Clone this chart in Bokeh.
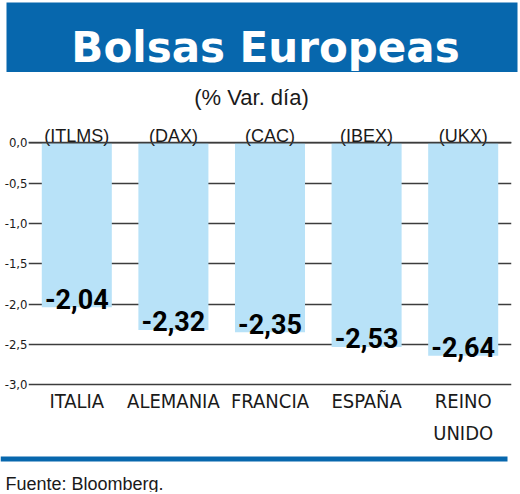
from bokeh.plotting import figure
from bokeh.layouts import column
from bokeh.models import (FactorRange, Range1d, FixedTicker, BoxAnnotation, Label,
                          Span, ColumnDataSource)
from bokeh.core.properties import value
from bokeh.embed import file_html
from bokeh.resources import INLINE

# ---- data ----
paises = ["ITALIA", "ALEMANIA", "FRANCIA", "ESPAÑA", "REINO UNIDO"]
indices = ["(ITLMS)", "(DAX)", "(CAC)", "(IBEX)", "(UKX)"]
variacion = [-2.04, -2.32, -2.35, -2.53, -2.64]
tick_vals = [0.0, -0.5, -1.0, -1.5, -2.0, -2.5, -3.0]
tick_labels = ["0,0", "-0,5", "-1,0", "-1,5", "-2,0", "-2,5", "-3,0"]
titulo = "Bolsas Europeas"
subtitulo = "(% Var. día)"
fuente = "Fuente: Bloomberg."

# ---- styling ----
W = 520
H_HEAD, H_MAIN, H_FOOT = 72, 376, 44
BORDER_L, BORDER_R = 28, 9
ZERO_PX = 70.3           # px of the 0 line from top of main figure
PX = 80.67               # px per unit
BLUE = "#0767ad"
BAR = "#b8e2f8"
GRID = "#3c3c3c"
TXT = "#1a1a1a"
NARROW_S = "'Liberation Sans Narrow', 'DejaVu Sans Condensed', sans-serif"
SANS_S = "'Liberation Sans', Arial, sans-serif"
NUM_S = "Roboto, 'Liberation Sans Narrow', sans-serif"


def bare(fig):
    fig.outline_line_color = None
    fig.grid.visible = False
    return fig


def no_align(fig):
    if "frame_align" in fig.properties():
        fig.frame_align = False
    return fig


# ---- header ----
head = bare(figure(width=W, height=H_HEAD, x_range=Range1d(0, W), y_range=Range1d(0, H_HEAD),
                   x_axis_location=None, y_axis_location=None,
                   output_backend="svg", toolbar_location=None, min_border=0))
head.add_layout(BoxAnnotation(left=6, right=517, top=70, bottom=0,
                              fill_color=BLUE, fill_alpha=1, line_color=None))
head.add_layout(Label(x=265, y=25, text=titulo, text_align="center",
                      text_baseline="alphabetic", text_font="DejaVu Sans",
                      text_font_style="bold", text_font_size="42px",
                      text_color="white"))

# ---- main chart ----
src = ColumnDataSource(dict(
    pais=paises,
    nombre=[p.replace(" ", "\n") for p in paises],
    indice=indices,
    var=variacion,
    etq=[f"{v:.2f}".replace(".", ",") for v in variacion],
))
# label anchor heights derived from the values (pixel gaps converted to data units)
src.data["y_etq"] = [v + 8.5 / PX for v in variacion]

y_range = Range1d(-(H_MAIN - ZERO_PX) / PX, ZERO_PX / PX)
p = figure(width=W, height=H_MAIN, x_range=FactorRange(factors=paises), y_range=y_range,
           x_axis_location=None, y_axis_location="left",
           output_backend="svg", toolbar_location=None,
           min_border_left=BORDER_L, min_border_right=BORDER_R,
           min_border_top=0, min_border_bottom=0)
p.outline_line_color = None
p.xgrid.visible = False

ax = p.yaxis[0]
ax.ticker = FixedTicker(ticks=tick_vals)
ax.major_label_overrides = dict(zip(tick_vals, tick_labels))
ax.axis_line_color = None
ax.major_tick_line_color = None
ax.minor_tick_line_color = None
ax.major_tick_out = 0
ax.major_tick_in = 0
ax.major_label_standoff = 1
ax.major_label_text_font = NARROW_S
ax.major_label_text_font_size = "13px"
ax.major_label_text_color = TXT
ax.major_label_text_baseline = "alphabetic"

p.ygrid.ticker = FixedTicker(ticks=tick_vals)
p.ygrid.grid_line_color = GRID
p.ygrid.grid_line_width = 1.4

p.vbar(x="pais", top=0, bottom="var", width=0.725, source=src,
       fill_color=BAR, line_color=None)
p.add_layout(Span(location=0, dimension="width", line_color=GRID,
                  line_width=1.4, level="overlay"))

p.text(x="pais", y=7 / PX, text="indice", source=src, text_align="center",
       text_baseline="alphabetic", text_font=value(SANS_S),
       text_font_size="18px", text_color=TXT)
p.text(x="pais", y="y_etq", text="etq", source=src, text_align="center",
       text_baseline="alphabetic", text_font=value(NUM_S),
       text_font_style="bold", text_font_size="27px", text_color="black")
p.text(x="pais", y=tick_vals[-1] - 4 / PX, text="nombre", source=src, text_align="center",
       text_baseline="top", text_font=value(NARROW_S),
       text_font_size="20px", text_color=TXT, text_line_height=1.35)

p.add_layout(Label(x=223, y=H_MAIN - 25, x_units="screen", y_units="screen",
                   text=subtitulo, text_align="center", text_baseline="alphabetic",
                   text_font=SANS_S, text_font_size="22px", text_color=TXT))

# ---- footer ----
foot = bare(figure(width=W, height=H_FOOT, x_range=Range1d(0, W), y_range=Range1d(0, H_FOOT),
                   x_axis_location=None, y_axis_location=None,
                   output_backend="svg", toolbar_location=None, min_border=0))
foot.add_layout(BoxAnnotation(top=36, bottom=31, left=0, right=507,
                              fill_color=BLUE, fill_alpha=1, line_color=None))
foot.add_layout(Label(x=5, y=9, text=fuente, text_align="left",
                      text_baseline="alphabetic", text_font=SANS_S,
                      text_font_size="18px", text_color=TXT))

for f in (head, p, foot):
    no_align(f)

layout = column(head, p, foot, spacing=0)
open("out.html", "w").write(file_html(layout, INLINE))
